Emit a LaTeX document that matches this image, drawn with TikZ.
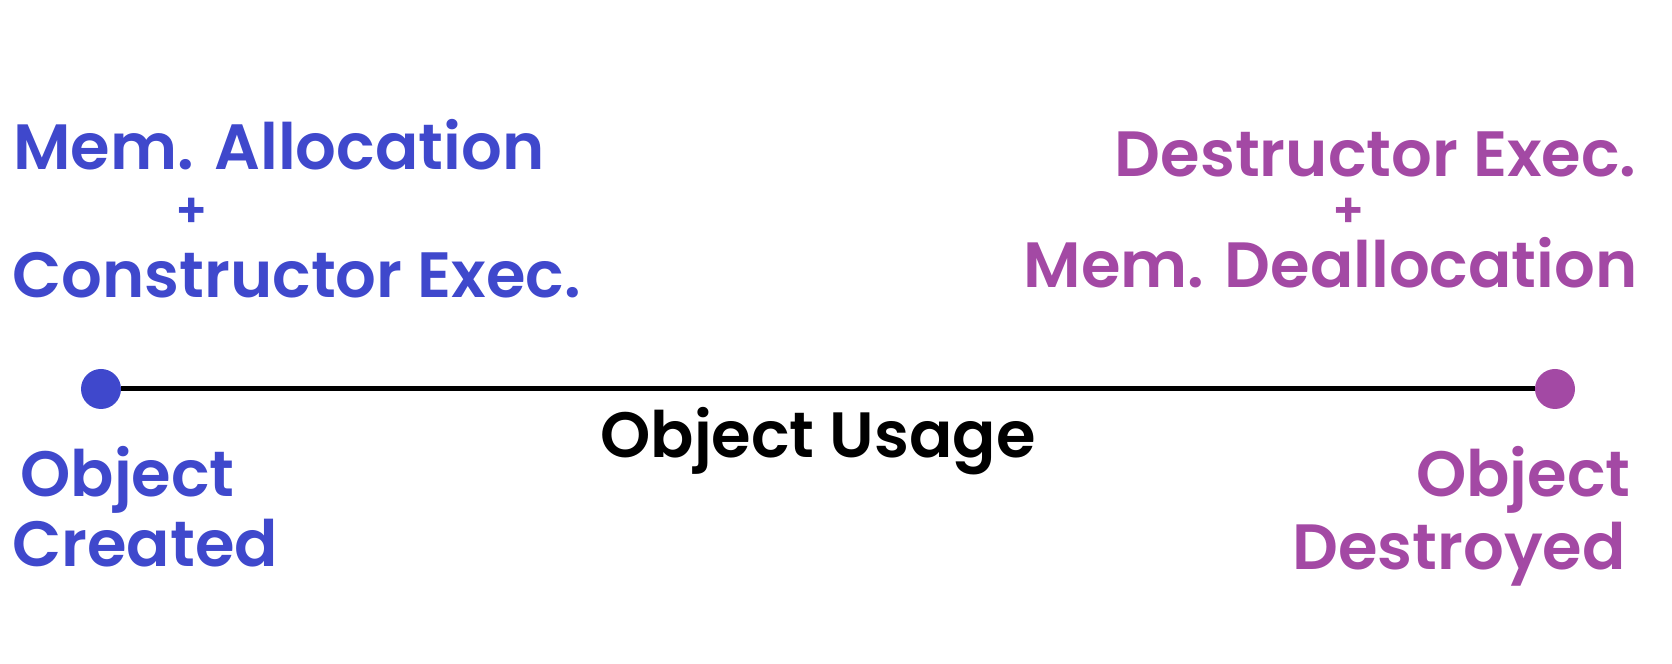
\documentclass[tikz,border=0pt]{standalone}
\usepackage{fontspec}
\setmainfont{Poppins}[BoldFont={Poppins SemiBold}]
\definecolor{newblue}{HTML}{3F48CC}
\definecolor{delpurple}{HTML}{A349A4}
\tikzset{
  lbl/.style={inner sep=0pt,font=\fontsize{32}{38}\selectfont\bfseries},
  plus/.style={inner sep=0pt,font=\fontsize{24}{28}\selectfont\bfseries},
  enddot/.style={circle,fill,inner sep=0pt,minimum size=20pt}
}
\begin{document}
\begin{tikzpicture}[x=0.5pt,y=0.5pt]
\useasboundingbox (0,0) rectangle (1672,664);
% life line
\node[enddot,newblue] (born) at (101,275) {};
\node[enddot,delpurple] (gone) at (1555,275) {};
\draw[line width=2.5pt] (born) -- (gone);
\node[lbl,anchor=base] (usage) at (818,206) {Object Usage};
% left side
\node[lbl,newblue,anchor=base west] (alloc) at (13,494) {Mem. Allocation};
\node[plus,newblue] (plusl) at (192,451) {+};
\node[lbl,newblue,anchor=base west] (ctor) at (12,366) {Constructor Exec.};
\node[lbl,newblue,anchor=base west] (objl) at (20,167) {Object};
\node[lbl,newblue,anchor=base west] (made) at (12,97) {Created};
% right side
\node[lbl,delpurple,anchor=base east] (dtor) at (1637,487) {Destructor Exec.};
\node[plus,delpurple] (plusr) at (1349,451) {+};
\node[lbl,delpurple,anchor=base east] (dealloc) at (1638,376) {Mem. Deallocation};
\node[lbl,delpurple,anchor=base east] (objr) at (1631,167) {Object};
\node[lbl,delpurple,anchor=base east] (killed) at (1626,94) {Destroyed};
\end{tikzpicture}
\end{document}
